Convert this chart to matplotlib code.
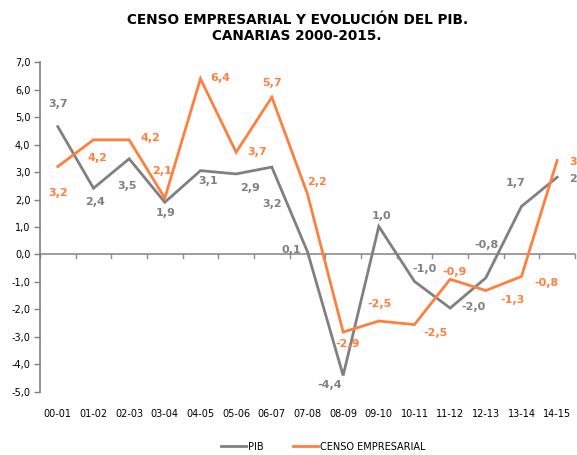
import numpy as np
import matplotlib.pyplot as plt

# periods and values
periods = ['00-01', '01-02', '02-03', '03-04', '04-05', '05-06', '06-07', '07-08',
           '08-09', '09-10', '10-11', '11-12', '12-13', '13-14', '14-15']
pib = [4.65, 2.41, 3.48, 1.90, 3.05, 2.93, 3.18, 0.10,
       -4.40, 1.02, -0.98, -1.95, -0.85, 1.75, 2.81]
censo = [3.20, 4.17, 4.17, 2.05, 6.39, 3.72, 5.72, 2.20,
         -2.82, -2.42, -2.55, -0.90, -1.31, -0.80, 3.42]

# data labels as printed on the original chart
pib_labels = ['3,7', '2,4', '3,5', '1,9', '3,1', '2,9', '3,2', '0,1',
              '-4,4', '1,0', '-1,0', '-2,0', '-0,8', '1,7', '2,8']
censo_labels = ['3,2', '4,2', '4,2', '2,1', '6,4', '3,7', '5,7', '2,2',
                '-2,9', '-2,5', '-2,5', '-0,9', '-1,3', '-0,8', '3,4']

# label offsets in pixels from each point (styling)
pib_off = [(0, 23), (2, -14), (-2, -27), (1, -11), (8, -10), (14, -14), (0, -37), (-16, 2),
           (-13, -10), (3, 10), (10, 12), (23, 1), (1, 33), (-6, 23), (22, -2)]
censo_off = [(0, -26), (4, -18), (21, 2), (-3, 27), (20, 1), (21, 0), (0, 14), (10, 12),
             (4, -12), (1, 17), (21, -8), (4, 7), (27, -9), (25, -7), (22, -2)]

GRAY = '#808080'
ORANGE = '#FF7F3F'

fig = plt.figure(figsize=(5.77, 4.55), dpi=100)
ax = fig.add_axes([0.0693, 0.1385, 0.9272, 0.7252])

x = np.arange(len(periods))
ax.plot(x, pib, color=GRAY, lw=2.0, label='PIB', solid_joinstyle='miter')
ax.plot(x, censo, color=ORANGE, lw=2.0, label='CENSO EMPRESARIAL', solid_joinstyle='miter')

for xi, v, s, o in zip(x, pib, pib_labels, pib_off):
    ax.annotate(s, (xi, v), xytext=o, textcoords='offset pixels', ha='center', va='center',
                fontsize=8, fontweight='bold', color=GRAY, annotation_clip=False)
for xi, v, s, o in zip(x, censo, censo_labels, censo_off):
    ax.annotate(s, (xi, v), xytext=o, textcoords='offset pixels', ha='center', va='center',
                fontsize=8, fontweight='bold', color=ORANGE, annotation_clip=False)

ax.set_xlim(-0.5, len(periods) - 0.5)
ax.set_ylim(-5, 7)
ax.set_yticks(np.arange(-5, 8, 1))
ax.set_yticklabels([f'{v:.1f}'.replace('.', ',') for v in np.arange(-5, 8, 1)])
ax.tick_params(axis='y', length=4, width=1, color=GRAY, labelsize=7, pad=3)

# x axis drawn at zero, category labels at the bottom
ax.axhline(0, color='#8c8c8c', lw=1.2, zorder=1)
for b in np.arange(-0.5, len(periods), 1):
    ax.plot([b, b], [0, -0.12], color='#8c8c8c', lw=1.0, zorder=1, clip_on=False)
ax.set_xticks(x)
ax.set_xticklabels(periods)
ax.tick_params(axis='x', length=0, labelsize=7, pad=12)

for s in ['top', 'right', 'bottom']:
    ax.spines[s].set_visible(False)
ax.spines['left'].set_color(GRAY)
ax.spines['left'].set_linewidth(1.2)

fig.text(0.515, 0.972, 'CENSO EMPRESARIAL Y EVOLUCIÓN DEL PIB.\nCANARIAS 2000-2015.',
         ha='center', va='top', fontsize=9.8, fontweight='bold', linespacing=1.2)

fig.legend(loc='lower center', bbox_to_anchor=(0.56, -0.012), ncol=2, frameon=False,
           fontsize=7, handlelength=2.6, handletextpad=0.2, columnspacing=3.0)

fig.savefig('out.png', dpi=100)
